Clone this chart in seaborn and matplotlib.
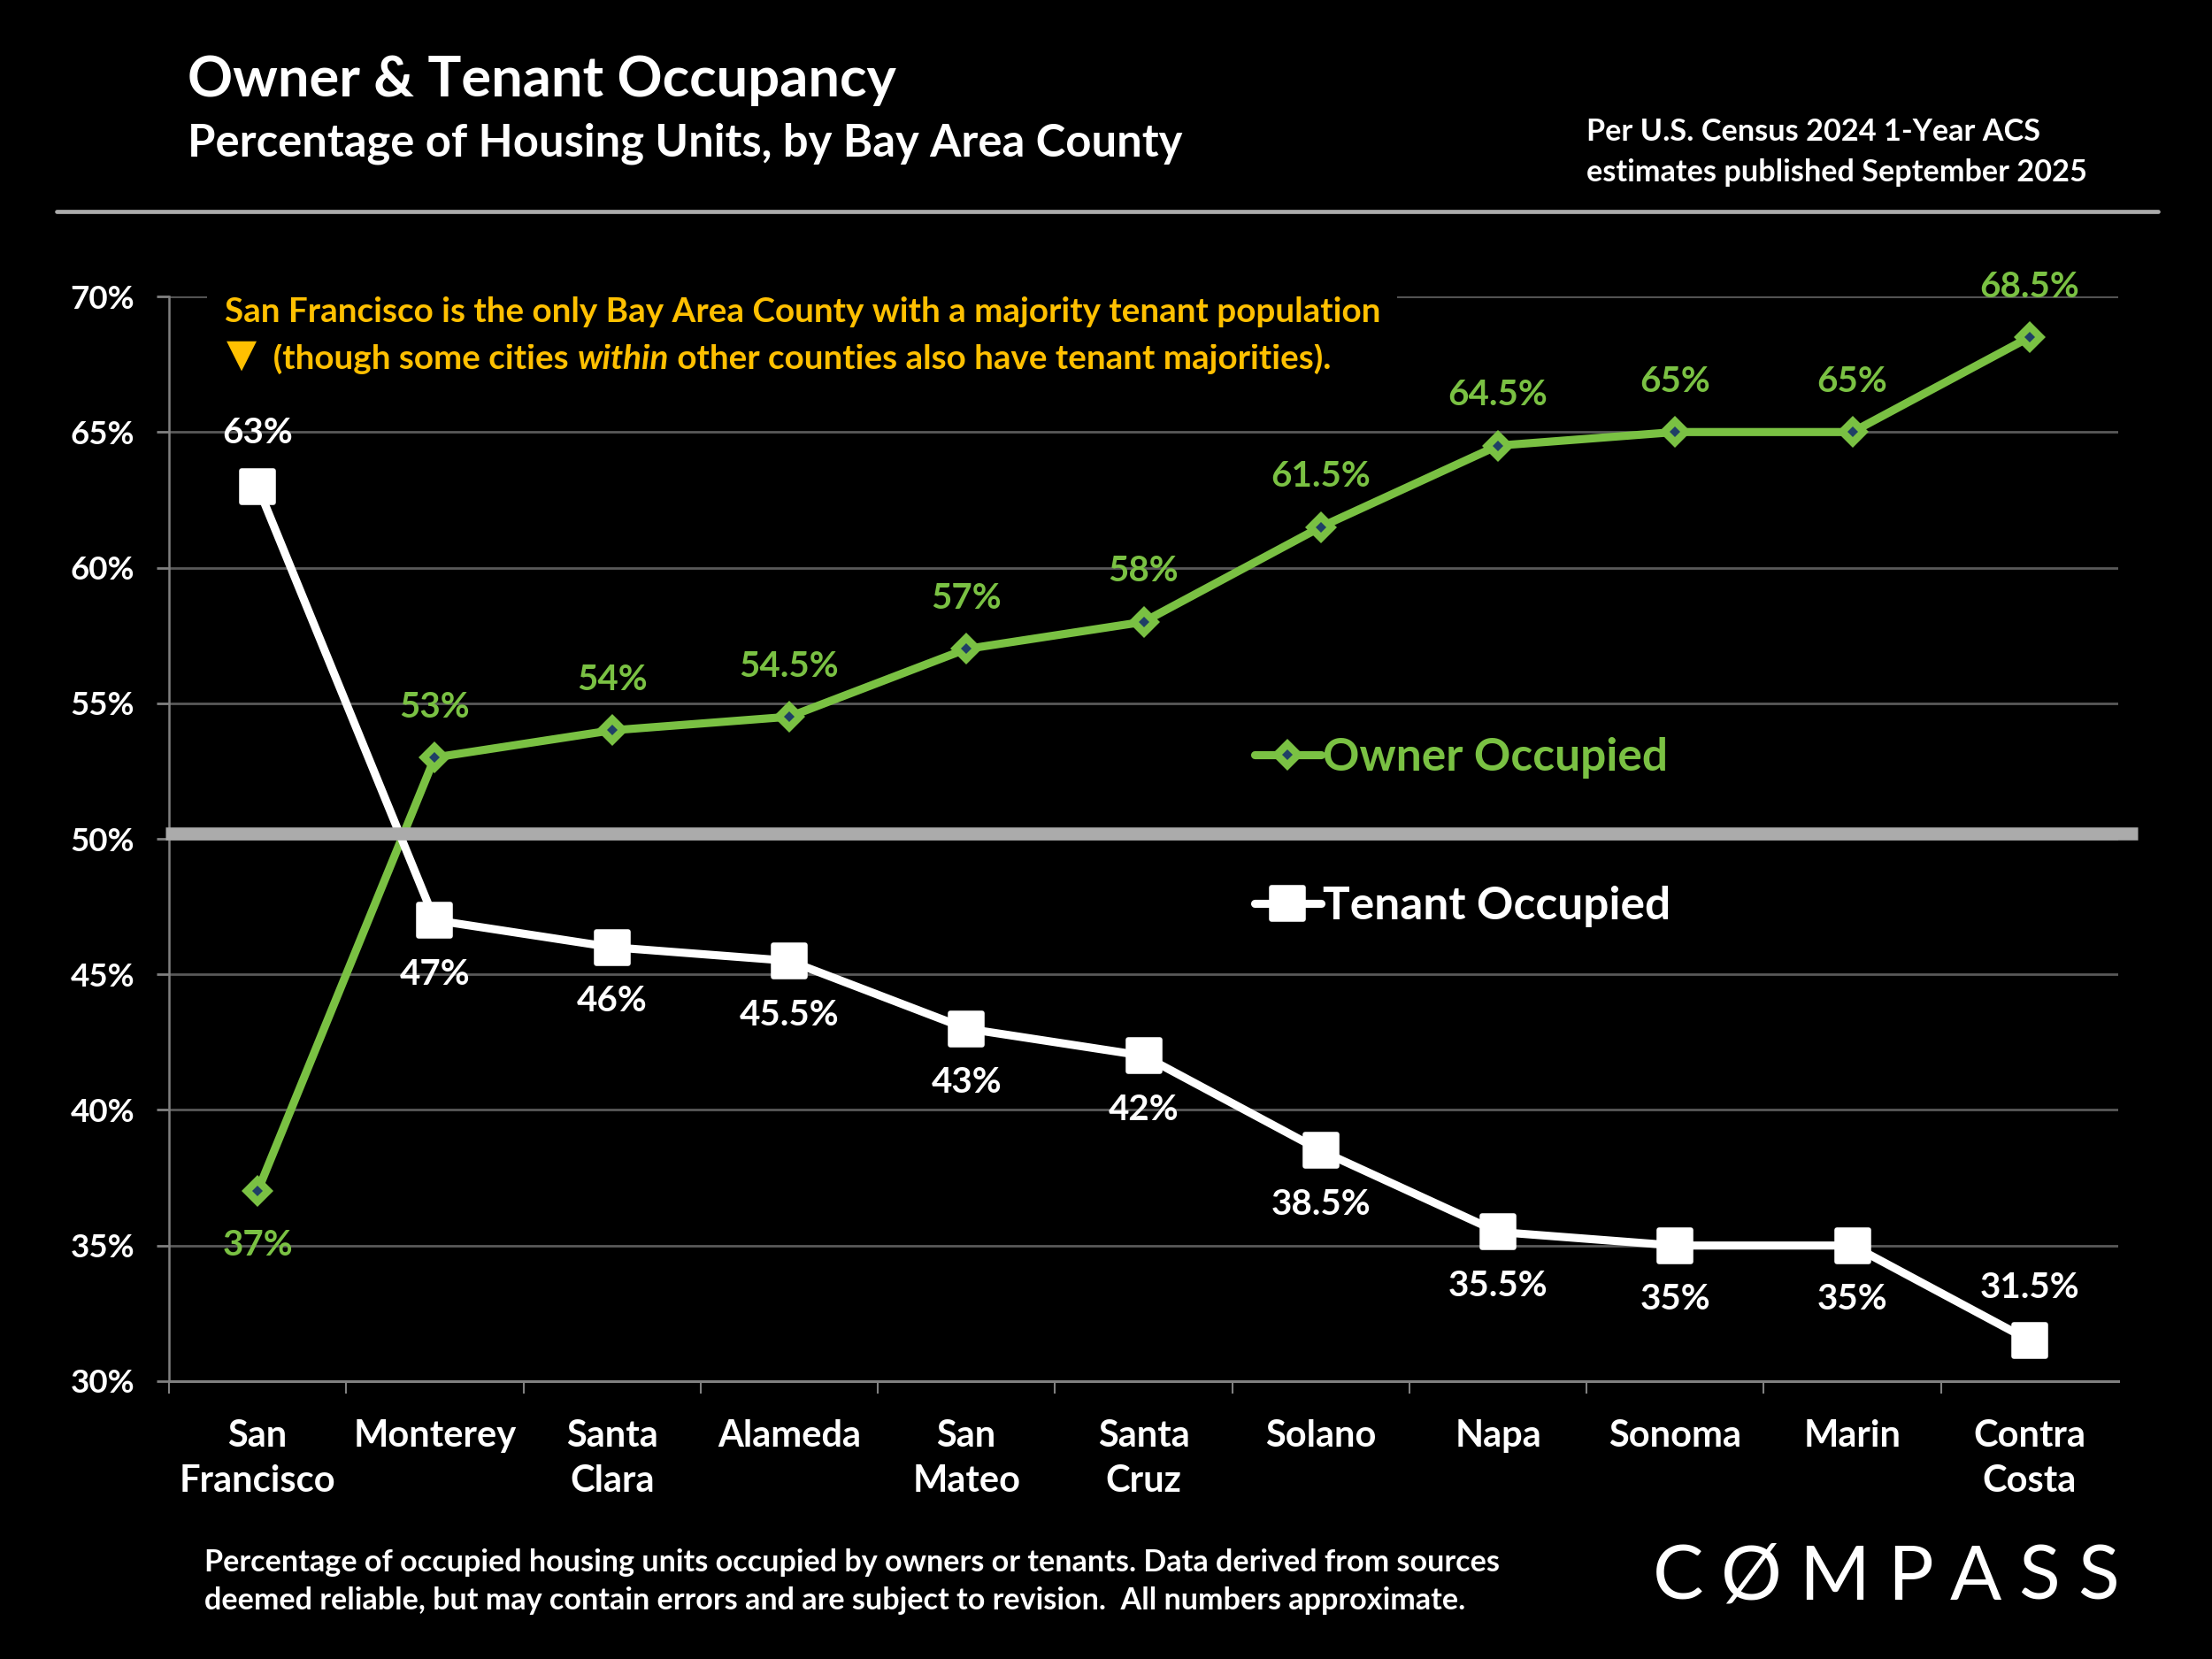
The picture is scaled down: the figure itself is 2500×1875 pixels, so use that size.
import matplotlib
matplotlib.use("Agg")
import matplotlib.pyplot as plt
import seaborn as sns
import pandas as pd
import numpy as np
from matplotlib.lines import Line2D
from matplotlib.markers import MarkerStyle
from matplotlib.ticker import FixedLocator

# ---------------- data ----------------
counties = ["San\nFrancisco", "Monterey", "Santa\nClara", "Alameda", "San\nMateo",
            "Santa\nCruz", "Solano", "Napa", "Sonoma", "Marin", "Contra\nCosta"]
owner = [37, 53, 54, 54.5, 57, 58, 61.5, 64.5, 65, 65, 68.5]
tenant = [63, 47, 46, 45.5, 43, 42, 38.5, 35.5, 35, 35, 31.5]
yticks = [30, 35, 40, 45, 50, 55, 60, 65, 70]
ytick_labels = ["30%", "35%", "40%", "45%", "50%", "55%", "60%", "65%", "70%"]
series_names = ["Owner Occupied", "Tenant Occupied"]

GREEN = "#7AC143"
NAVY = "#1F3F66"
WHITE = "#FFFFFF"
GOLD = "#FFC000"
GRID = "#595959"
AXIS = "#808080"
BAND = "#ABABAB"

sns.set_theme(style="dark")
plt.rcParams["font.family"] = ["Lato", "DejaVu Sans"]
plt.rcParams["font.weight"] = "bold"

fig = plt.figure(figsize=(25, 18.75), dpi=100, facecolor="black")
ax = fig.add_axes([0.0764, 0.1675, 0.8812, 0.6538])
ax.set_facecolor("black")

df = pd.DataFrame({
    "County": counties * 2,
    "Pct": owner + tenant,
    "Type": [series_names[0]] * len(owner) + [series_names[1]] * len(tenant),
})

owner_style = dict(color=GREEN, linewidth=6.6, marker="D", markersize=12.7,
                   markerfacecolor=NAVY, markeredgecolor=GREEN, markeredgewidth=6.1,
                   solid_joinstyle="round")
sq = MarkerStyle("s", joinstyle="round")
tenant_style = dict(color=WHITE, linewidth=6.6, marker=sq, markersize=25.5,
                    markerfacecolor=WHITE, markeredgecolor=WHITE, markeredgewidth=4,
                    solid_joinstyle="round")

sns.lineplot(data=df[df["Type"] == series_names[0]], x="County", y="Pct", ax=ax,
             sort=False, legend=False, zorder=4, **owner_style)
sns.lineplot(data=df[df["Type"] == series_names[1]], x="County", y="Pct", ax=ax,
             sort=False, legend=False, zorder=4, **tenant_style)

# axes limits / ticks
ax.set_xlim(-0.5, len(counties) - 0.5)
ax.set_ylim(30, 70)
ax.set_yticks(yticks)
ax.set_yticklabels(ytick_labels)
ax.set_xticks(range(len(counties)))
ax.set_xticklabels(counties, linespacing=1.43)
ax.xaxis.set_minor_locator(FixedLocator(np.arange(-0.5, len(counties) - 1, 1)))
ax.tick_params(axis="x", which="major", length=0, pad=31, labelsize=30, labelcolor=WHITE)
ax.tick_params(axis="x", which="minor", length=10, width=1.5, color=AXIS, direction="out", bottom=True)
ax.tick_params(axis="y", which="major", length=10, width=2, color=AXIS, left=True,
               pad=18, labelsize=26.5, labelcolor=WHITE)
ax.set_xlabel("")
ax.set_ylabel("")
for lab in ax.get_xticklabels() + ax.get_yticklabels():
    lab.set_fontweight("bold")

ax.grid(False)
for y in yticks[1:]:
    ax.axhline(y, color=GRID, linewidth=2, zorder=1)
for s in ["top", "right"]:
    ax.spines[s].set_visible(False)
ax.spines["left"].set_color(AXIS)
ax.spines["left"].set_linewidth(1.8)
ax.spines["bottom"].set_color(AXIS)
ax.spines["bottom"].set_linewidth(2.2)

# 50% reference band (drawn above the lines)
band = ax.axhline(50.2, xmin=-0.002, xmax=1.0101, color=BAND, linewidth=10.5, zorder=5,
                  clip_on=False, solid_capstyle="butt")

# data labels
LBL = 29
for i, v in enumerate(owner):
    below = v < tenant[i]
    ax.annotate(f"{v:g}%", xy=(i, v), xytext=(0, -44 if below else 41),
                textcoords="offset points", ha="center", va="center",
                color=GREEN, fontsize=LBL, fontweight="bold", zorder=6)
for i, v in enumerate(tenant):
    above = v > owner[i] or i == len(tenant) - 1
    ax.annotate(f"{v:g}%", xy=(i, v), xytext=(0, 43 if above else -44),
                textcoords="offset points", ha="center", va="center",
                color=WHITE, fontsize=LBL, fontweight="bold", zorder=6)

# legend
handles = [Line2D([], [], **owner_style), Line2D([], [], **tenant_style)]
leg = ax.legend(handles, series_names, loc="center left", bbox_to_anchor=(0.557, 0.506),
                frameon=False, handlelength=1.45, handletextpad=0.05,
                labelspacing=2.35, borderpad=0, borderaxespad=0, prop=dict(size=37, weight="bold"))
leg.get_texts()[0].set_color(GREEN)
leg.get_texts()[1].set_color(WHITE)
leg.set_zorder(7)

# annotation text (gold)
AN = 27.8
t1 = fig.text(0.1015, 0.812, "San Francisco is the only Bay Area County with a majority tenant population",
              color=GOLD, fontsize=AN, fontweight="bold", va="center", ha="left", zorder=10,
              bbox=dict(facecolor="black", edgecolor="none", pad=14))
t2a = fig.text(0.1025, 0.786, "\u25BC", color=GOLD, fontsize=AN * 1.15,
               fontweight="bold", va="center", ha="left", zorder=10, family=["DejaVu Sans"])
t2 = ax.annotate("  (though some cities ", xy=(1, 0), xycoords=t2a, va="bottom", ha="left",
                 color=GOLD, fontsize=AN, fontweight="bold", annotation_clip=False)
t3 = ax.annotate("within", xy=(1, 0), xycoords=t2, va="bottom", ha="left",
                 color=GOLD, fontsize=AN, fontweight="bold", fontstyle="italic", annotation_clip=False)
t4 = ax.annotate(" other counties also have tenant majorities).", xy=(1, 0), xycoords=t3,
                 va="bottom", ha="left", color=GOLD, fontsize=AN, fontweight="bold", annotation_clip=False)

# header
fig.text(0.0848, 0.942, "Owner & Tenant Occupancy", color=WHITE, fontsize=45.5,
         fontweight="bold", ha="left", va="baseline")
fig.text(0.0848, 0.9056, "Percentage of Housing Units, by Bay Area County", color=WHITE,
         fontsize=36.5, fontweight="bold", ha="left", va="baseline")
fig.text(0.7173, 0.915, "Per U.S. Census 2024 1-Year ACS", color=WHITE, fontsize=24.7,
         fontweight="bold", ha="left", va="baseline")
fig.text(0.7173, 0.8905, "estimates published September 2025", color=WHITE, fontsize=24.7,
         fontweight="bold", ha="left", va="baseline")
fig.add_artist(Line2D([0.0255, 0.9755], [0.8725, 0.8725], color=BAND, linewidth=3.4,
                      transform=fig.transFigure))

# footer
fig.text(0.0925, 0.053, "Percentage of occupied housing units occupied by owners or tenants. Data derived from sources",
         color=WHITE, fontsize=24.6, fontweight="bold", ha="left", va="baseline")
fig.text(0.0925, 0.030, "deemed reliable, but may contain errors and are subject to revision.  All numbers approximate.",
         color=WHITE, fontsize=24.6, fontweight="bold", ha="left", va="baseline")

# logo
fig.canvas.draw()
renderer = fig.canvas.get_renderer()
letters = list("C\u00D8MPASS")
logo_left, logo_width = 0.7473, 0.2105
texts = [fig.text(0, 0.0487, ch, color=WHITE, fontsize=62, fontweight="normal",
                  ha="left", va="center", family=["Lato", "DejaVu Sans"]) for ch in letters]
widths = [t.get_window_extent(renderer).width / fig.bbox.width for t in texts]
gap = (logo_width - sum(widths)) / (len(letters) - 1)
x = logo_left
for t, w in zip(texts, widths):
    t.set_x(x)
    x += w + gap

fig.savefig("out.png", dpi=100, facecolor="black")
